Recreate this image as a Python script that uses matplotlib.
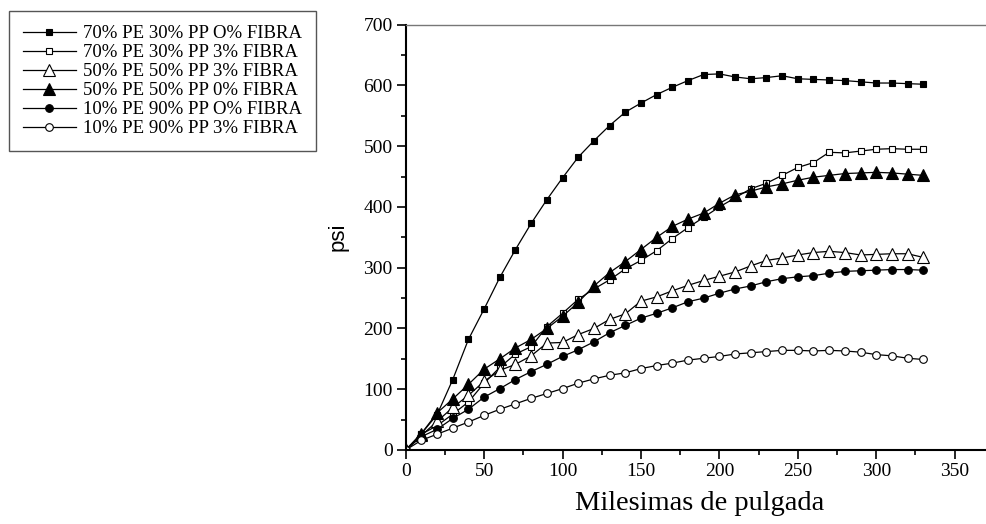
import matplotlib
matplotlib.use("Agg")
import matplotlib.pyplot as plt
from matplotlib.ticker import MultipleLocator

x = list(range(0, 340, 10))

labels = [
    "70% PE 30% PP O% FIBRA",
    "70% PE 30% PP 3% FIBRA",
    "50% PE 50% PP 3% FIBRA",
    "50% PE 50% PP 0% FIBRA",
    "10% PE 90% PP O% FIBRA",
    "10% PE 90% PP 3% FIBRA",
]

pe70_f0 = [0, 27, 58, 116, 182, 232, 284, 330, 373, 412, 448, 482, 509, 534, 556, 571,
           585, 597, 608, 618, 619, 614, 611, 613, 616, 611, 610, 609, 608, 606, 604, 604, 603, 602]
pe70_f3 = [0, 26, 40, 59, 79, 110, 136, 158, 170, 203, 225, 248, 265, 280, 298, 312,
           328, 348, 366, 383, 400, 415, 430, 439, 452, 465, 473, 490, 489, 492, 495, 496, 495, 495]
pe50_f3 = [0, 24, 47, 70, 90, 113, 131, 141, 155, 176, 177, 190, 200, 215, 224, 245,
           252, 262, 271, 279, 286, 293, 303, 312, 316, 321, 325, 327, 325, 321, 322, 323, 323, 317]
pe50_f0 = [0, 27, 61, 84, 108, 133, 150, 168, 182, 200, 220, 243, 270, 292, 310, 330,
           350, 368, 380, 390, 406, 420, 426, 433, 438, 444, 449, 452, 455, 456, 457, 456, 454, 452]
pe10_f0 = [0, 22, 34, 52, 67, 87, 101, 116, 129, 141, 154, 165, 178, 193, 205, 217,
           225, 234, 244, 250, 258, 265, 270, 277, 282, 285, 287, 291, 294, 295, 296, 297, 297, 296]
pe10_f3 = [0, 16, 26, 36, 46, 57, 67, 76, 85, 93, 101, 110, 117, 123, 127, 134,
           139, 143, 148, 151, 154, 158, 160, 162, 164, 164, 163, 164, 163, 161, 157, 155, 151, 149]

series = [pe70_f0, pe70_f3, pe50_f3, pe50_f0, pe10_f0, pe10_f3]
styles = [
    dict(marker="s", mfc="black", ms=5),
    dict(marker="s", mfc="white", ms=5),
    dict(marker="^", mfc="white", ms=8),
    dict(marker="^", mfc="black", ms=8),
    dict(marker="o", mfc="black", ms=5.5),
    dict(marker="o", mfc="white", ms=5.5),
]

serif = ["Liberation Serif", "DejaVu Serif"]

fig = plt.figure(figsize=(9.86, 5.24), dpi=100)
ax = fig.add_axes([405.7 / 986, 74 / 524, (986 - 405.7) / 986, 425.3 / 524])

handles = []
for y, st, lab in zip(series, styles, labels):
    h, = ax.plot(x, y, color="black", lw=0.9, mec="black", mew=0.8,
                 label=lab, **st)
    handles.append(h)

ax.set_xlim(0, 370)
ax.set_ylim(0, 700)
ax.xaxis.set_major_locator(MultipleLocator(50))
ax.xaxis.set_minor_locator(MultipleLocator(25))
ax.yaxis.set_major_locator(MultipleLocator(100))
ax.yaxis.set_minor_locator(MultipleLocator(50))
ax.set_xticks([0, 50, 100, 150, 200, 250, 300, 350])
ax.tick_params(which="major", direction="out", length=6.5, width=1.2, pad=3)
ax.tick_params(which="minor", direction="out", length=3.6, width=1.2)
ax.tick_params(top=False, right=False)
for lab in ax.get_xticklabels() + ax.get_yticklabels():
    lab.set_fontfamily(serif)
    lab.set_fontsize(14)

ax.spines["right"].set_visible(False)
ax.spines["left"].set_linewidth(1.5)
ax.spines["bottom"].set_linewidth(1.5)
ax.spines["top"].set_linewidth(1.0)
ax.spines["top"].set_color("#777777")

fig.text(700 / 986, 1 - 503 / 524, "Milesimas de pulgada", family=serif,
         fontsize=20.5, ha="center", va="center")
fig.text(338 / 986, 1 - 237 / 524, "psi", family=["Liberation Sans", "DejaVu Sans"],
         fontsize=16, rotation=90, ha="center", va="center")

leg = fig.legend(handles=handles, loc="upper left",
                 bbox_to_anchor=(9 / 986, 1 - 11 / 524), bbox_transform=fig.transFigure,
                 prop=dict(family=serif, size=13.5), frameon=True, fancybox=False,
                 edgecolor="#555555", framealpha=1, handlelength=2.8,
                 handletextpad=0.4, labelspacing=0.1, borderpad=0.75,
                 borderaxespad=0, handleheight=0.7)
leg.get_frame().set_linewidth(1.0)

fig.savefig("out.png", dpi=100)
